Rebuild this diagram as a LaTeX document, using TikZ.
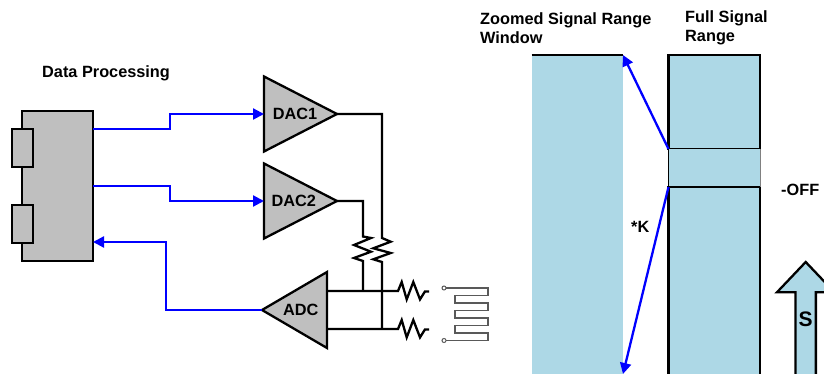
\documentclass[tikz,border=0pt]{standalone}
\usepackage{fontspec}
\setmainfont{Liberation Sans}
\usepackage{xcolor}
\usetikzlibrary{shapes.geometric,shapes.arrows,arrows.meta,positioning,calc}
\definecolor{sigblue}{HTML}{ADD8E6}
\definecolor{bodygray}{HTML}{BFBFBF}
\begin{document}
\begin{tikzpicture}[
    x=1pt, y=-1pt,
    txt/.style={font=\fontsize{16.3}{19.5}\selectfont\bfseries, align=left, inner sep=0pt},
    block/.style={rectangle, draw, fill=bodygray, line width=2.3pt, inner sep=0pt, outer sep=0pt},
    amp/.style={isosceles triangle, isosceles triangle stretches, draw, fill=bodygray, line width=2.3pt, inner sep=0pt, outer sep=0pt, minimum width=75pt, minimum height=73pt, font=\fontsize{16.3}{20}\selectfont\bfseries},
    sigbox/.style={rectangle, fill=sigblue, inner sep=0pt, outer sep=0pt, minimum width=91.5pt},
    arrow/.style={->, >={Triangle[length=11pt,width=11pt]}, draw=blue, line width=2.3pt},
    wire/.style={draw=black, line width=2.3pt},
    coil/.style={draw=black!65, line width=1.4pt}
]
    \useasboundingbox (0,0) rectangle (824,374);

    % Data processing block
    \node[block, minimum width=71pt, minimum height=150pt] (proc) at (57.5,186) {};
    \node[block, minimum width=21pt, minimum height=38pt] (port1) at (22.5,148) {};
    \node[block, minimum width=21pt, minimum height=38pt] (port2) at (22.5,224) {};
    \node[txt, anchor=west] (title) at (42,73) {Data Processing};

    % Converters
    \node[amp, anchor=lower side] (dac1) at (264,114) {\hspace*{5pt}DAC1};
    \node[amp, anchor=lower side] (dac2) at (264,201) {\hspace*{3pt}DAC2};
    \node[amp, anchor=lower side, shape border rotate=180, minimum width=76pt, minimum height=65pt] (adc) at (327,310) {ADC\hspace*{3pt}};

    % Digital links
    \draw[arrow] ([yshift=57pt]proc.east) -- ++(77,0) |- (dac1.lower side);
    \draw[arrow] (proc.east) -- ++(77,0) |- (dac2.lower side);
    \draw[arrow] (adc.apex) -| (166,242) -- ([yshift=-56pt]proc.east);

    % Analog nets
    \coordinate (adcp) at ([yshift=19pt]adc.lower side);
    \coordinate (adcn) at ([yshift=-19pt]adc.lower side);
    \draw[wire] (adcp) -- ++(71,0) -- ++(3.7,-9) -- ++(5,17.4) -- ++(6.6,-17.4) -- ++(6.7,17.4) -- ++(5,-8) -- ++(4,0);
    \draw[wire] (adcn) -- ++(71,0) -- ++(3.7,-9) -- ++(5,17.4) -- ++(6.6,-17.4) -- ++(6.7,17.4) -- ++(5,-8) -- ++(4,0);
    \draw[wire] (dac1.apex) -| (382,238) -- ++(8.7,3.7) -- ++(-17.4,6.6) -- ++(17.4,4.7) -- ++(-17.4,6.3) -- (382,262) -- (382,329);
    \draw[wire] (dac2.apex) -| (363,236.5) -- ++(8,1.5) -- ++(-17,7) -- ++(17,6.7) -- ++(-17,6.3) -- (363,261) -- (363,291);

    % Sensor
    \node[circle, draw=black!65, line width=1pt, inner sep=0pt, outer sep=0pt, minimum size=4pt] (term1) at (444,288) {};
    \node[circle, draw=black!65, line width=1pt, inner sep=0pt, outer sep=0pt, minimum size=4pt] (term2) at (444,340.5) {};
    \draw[coil] (term1.east) -- (488,288) -- (488,295.5) -- (455,295.5) -- (455,303) -- (488,303) -- (488,310.5) -- (455,310.5) -- (455,318) -- (488,318) -- (488,325.5) -- (455,325.5) -- (455,333) -- (488,333) -- (488,340.5) -- (term2.east);

    % Signal ranges
    \node[sigbox, anchor=north west, minimum height=319pt] (zoomwin) at (531.5,55) {};
    \node[sigbox, anchor=north west, minimum height=94pt, draw, line width=2.3pt] (fulltop) at (668.5,55) {};
    \node[sigbox, anchor=north west, minimum height=38pt] (fullmid) at (668.5,149) {};
    \node[sigbox, anchor=north west, minimum height=200pt, draw, line width=2.3pt] (fulllow) at (668.5,187) {};
    \draw[line width=2pt] (zoomwin.north west) -- (zoomwin.north east);
    \draw[line width=0.9pt] (fullmid.north west) -- (fullmid.south west);
    \draw[line width=0.9pt, gray] (fullmid.north east) -- (fullmid.south east);
    \draw[arrow] (fullmid.north west) -- (zoomwin.north east);
    \draw[arrow] (fullmid.south west) -- (zoomwin.south east);

    % Shift arrow
    \node[single arrow, shape border rotate=90, anchor=tip, draw, fill=sigblue, line width=2.3pt, inner sep=9pt, outer sep=0pt, minimum width=55pt, minimum height=125pt, single arrow head extend=18.5pt, single arrow tip angle=87] (shift) at (805.7,262) {};

    % Labels
    \node[txt, anchor=west] (zoomlabel) at (480,28) {Zoomed Signal Range\\Window};
    \node[txt, anchor=west] (fulllabel) at (685,28) {Full Signal\\Range};
    \node[txt, anchor=west] (offlabel) at (781,190) {-OFF};
    \node[txt, anchor=west] (klabel) at (631,227) {*K};
    \node[txt, font=\fontsize{21}{24}\selectfont\bfseries] (slabel) at (805.5,319) {S};
\end{tikzpicture}
\end{document}
